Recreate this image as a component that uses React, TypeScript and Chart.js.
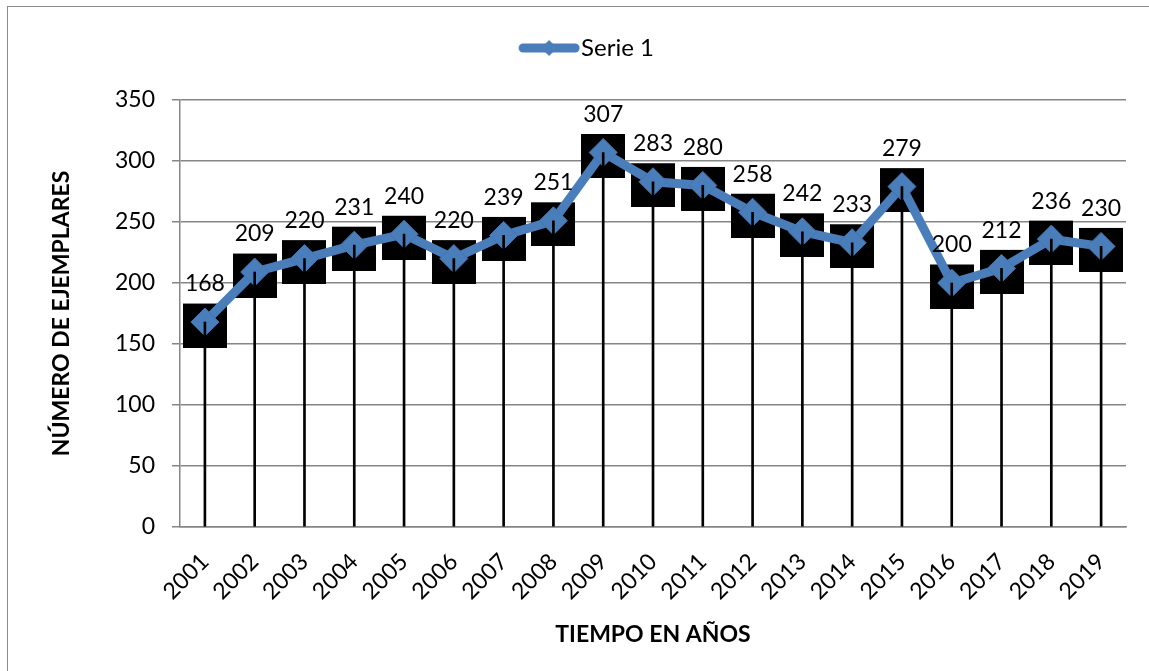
import React, { useEffect, useRef } from "react";
import { Chart, registerables } from "chart.js";

Chart.register(...registerables);

const years = ["2001","2002","2003","2004","2005","2006","2007","2008","2009","2010","2011","2012","2013","2014","2015","2016","2017","2018","2019"];
const serie1 = [168, 209, 220, 231, 240, 220, 239, 251, 307, 283, 280, 258, 242, 233, 279, 200, 212, 236, 230];
const seriesName = "Serie 1";
const yTitle = "NÚMERO DE EJEMPLARES";
const xTitle = "TIEMPO EN AÑOS";

const BLUE = "#4a7ebb";
const FONT = "Lato, 'Open Sans', sans-serif";

function makeSquareImg() {
  const c = document.createElement("canvas");
  c.width = 44;
  c.height = 51;
  const g = c.getContext("2d")!;
  g.fillStyle = "#000";
  g.fillRect(0, 7, 44, 44);
  return c;
}

function makeLegendImg() {
  const c = document.createElement("canvas");
  c.width = 111;
  c.height = 20;
  const g = c.getContext("2d")!;
  g.strokeStyle = BLUE;
  g.lineWidth = 9;
  g.lineCap = "round";
  g.beginPath();
  g.moveTo(54, 10);
  g.lineTo(106, 10);
  g.stroke();
  g.fillStyle = BLUE;
  g.beginPath();
  g.moveTo(80, 2);
  g.lineTo(88, 10);
  g.lineTo(80, 18);
  g.lineTo(72, 10);
  g.closePath();
  g.fill();
  return c;
}

const labelPlugin = {
  id: "valueLabels",
  afterDatasetsDraw(chart: any) {
    const meta = chart.getDatasetMeta(1);
    const ctx = chart.ctx;
    ctx.save();
    ctx.font = `23px ${FONT}`;
    ctx.fillStyle = "#000";
    ctx.textAlign = "center";
    ctx.textBaseline = "middle";
    meta.data.forEach((pt: any, i: number) => {
      ctx.fillText(String(serie1[i]), pt.x, pt.y - 38);
    });
    ctx.restore();
  },
};

export default function App() {
  const ref = useRef<HTMLCanvasElement>(null);
  useEffect(() => {
    if (!ref.current) return;
    const squareImg = makeSquareImg();
    const legendImg = makeLegendImg();
    const chart = new Chart(ref.current, {
      type: "bar",
      data: {
        labels: years,
        datasets: [
          {
            type: "bar",
            label: "drop",
            data: serie1,
            backgroundColor: "#000",
            barThickness: 2,
            order: 0,
          } as any,
          {
            type: "line",
            label: seriesName,
            data: serie1,
            borderColor: BLUE,
            borderWidth: 9,
            pointStyle: "rectRot",
            pointRadius: 14,
            pointBackgroundColor: BLUE,
            pointBorderColor: "#4574ad",
            pointBorderWidth: 1,
            tension: 0,
            order: 1,
          },
          {
            type: "line",
            label: "squares",
            data: serie1,
            showLine: false,
            pointStyle: squareImg as any,
            pointRadius: 22,
            order: 2,
          },
        ],
      },
      options: {
        animation: false,
        responsive: false,
        layout: { padding: { left: 0, right: 15, top: 26, bottom: 0 } },
        plugins: {
          tooltip: { enabled: false },
          legend: {
            display: true,
            position: "top",
            weight: 3000,
            labels: {
              usePointStyle: true,
              pointStyleWidth: 89,
              padding: 10,
              font: { family: FONT, size: 24 },
              color: "#000",
              generateLabels: () => [
                {
                  text: seriesName,
                  pointStyle: legendImg as any,
                  fillStyle: BLUE,
                  strokeStyle: BLUE,
                  lineWidth: 0,
                  hidden: false,
                  datasetIndex: 1,
                  fontColor: "#000",
                } as any,
              ],
            },
          } as any,
          title: {
            display: true,
            text: "",
            position: "top",
            weight: 2000,
            font: { size: 10 },
            padding: { top: 18, bottom: 0 },
          },
        },
        scales: {
          x: {
            offset: true,
            grid: { display: false },
            border: { display: true, color: "#868686", width: 1.5 },
            ticks: {
              maxRotation: 45,
              minRotation: 45,
              autoSkip: false,
              padding: 13,
              color: "#000",
              font: { family: FONT, size: 23 },
            },
            title: {
              display: true,
              text: xTitle,
              color: "#000",
              font: { family: FONT, size: 23, weight: "bold" },
              padding: { top: 0, bottom: 23 },
            },
            afterFit: (s: any) => {
              s.height = 144;
            },
          },
          y: {
            min: 0,
            max: 350,
            ticks: {
              stepSize: 50,
              padding: 17,
              color: "#000",
              font: { family: FONT, size: 23 },
            },
            grid: { color: "#868686", lineWidth: 1.5, tickLength: 8 },
            border: { display: true, color: "#868686", width: 1.5 },
            title: {
              display: true,
              text: yTitle,
              color: "#000",
              font: { family: FONT, size: 23, weight: "bold" },
              padding: { top: 48, bottom: 0 },
            },
            afterFit: (s: any) => {
              s.width = 180;
            },
          },
        },
      },
      plugins: [labelPlugin],
    });
    return () => chart.destroy();
  }, []);
  return (
    <div style={{ position: "absolute", left: 0, top: 0, width: 1149, height: 671, background: "#fff" }}>
      <div
        style={{
          position: "absolute",
          left: 7,
          top: 6,
          width: 1150,
          height: 680,
          borderLeft: "1.5px solid #8a8a8a",
          borderTop: "1.5px solid #8a8a8a",
        }}
      />
      <canvas ref={ref} width={1149} height={671} style={{ position: "absolute", left: 0, top: 0, width: 1149, height: 671 }} />
    </div>
  );
}
